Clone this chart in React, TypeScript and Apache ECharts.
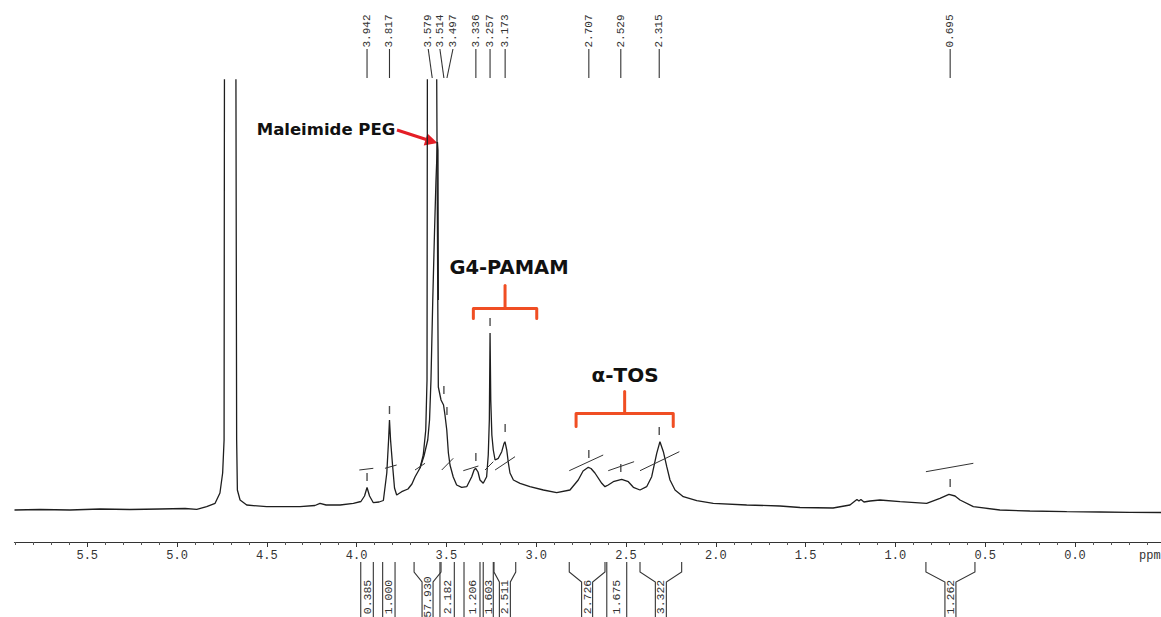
import React, { useEffect, useRef } from "react";
import * as echarts from "echarts";

// ---------- DATA ----------
const X_MIN = -0.479;
const X_MAX = 5.905;

const spectrumPpm = [
  5.905, 5.763, 5.596, 5.429, 5.262, 5.095, 4.955, 4.89, 4.835, 4.788, 4.761, 4.746, 4.738, 4.736, 4.705, 4.672,
  4.668, 4.664, 4.649, 4.612, 4.501, 4.315, 4.232, 4.204, 4.17, 4.092, 4.018, 3.976, 3.956, 3.942, 3.928, 3.907,
  3.875, 3.851, 3.832, 3.822, 3.817, 3.811, 3.8, 3.789, 3.777, 3.749, 3.714, 3.692, 3.675, 3.647, 3.629, 3.615,
  3.608, 3.606, 3.58, 3.554, 3.548, 3.545, 3.53, 3.516, 3.508, 3.498, 3.489, 3.48, 3.462, 3.443, 3.415, 3.387,
  3.359, 3.346, 3.337, 3.324, 3.313, 3.295, 3.276, 3.267, 3.261, 3.257, 3.253, 3.247, 3.239, 3.229, 3.211, 3.192,
  3.179, 3.174, 3.164, 3.155, 3.146, 3.127, 3.09, 3.035, 2.96, 2.886, 2.812, 2.766, 2.739, 2.71, 2.695, 2.673,
  2.635, 2.617, 2.599, 2.571, 2.524, 2.487, 2.459, 2.422, 2.385, 2.357, 2.329, 2.311, 2.292, 2.273, 2.255, 2.227,
  2.181, 2.106, 2.014, 1.828, 1.643, 1.531, 1.347, 1.253, 1.225, 1.214, 1.203, 1.192, 1.175, 1.141, 1.086, 0.974,
  0.826, 0.752, 0.702, 0.668, 0.64, 0.566, 0.418, 0.251, 0.046, -0.139, -0.306, -0.479,
];
const spectrumIntensity = [
  32, 32.5, 32, 33, 32.5, 33, 33.5, 32.7, 35.3, 38.7, 49, 69, 102, 462, 4000, 462,
  102, 52, 42, 37, 35.3, 35.3, 36.5, 38.7, 37, 37, 38.7, 40.5, 46, 54.5, 46, 39.3,
  40, 41.5, 69, 102, 122, 102, 77, 54, 47, 50.3, 53, 58, 65, 74, 87, 112,
  162, 462, 5000, 462, 239, 155, 142, 137, 127, 112, 89, 77, 65, 57, 54.7, 55.3,
  65.3, 72, 73.7, 70, 62, 58.7, 65.3, 87, 122, 209, 142, 107, 92, 82, 83.7, 90.3,
  98.7, 100.3, 92, 79, 69, 62, 58.7, 55.3, 52, 49.3, 52, 62, 71, 74.7, 73.5, 69,
  58.7, 55.3, 57, 60.3, 62.7, 60.3, 54.7, 52, 55.3, 65.3, 88.7, 100.3, 90.3, 75.3, 62, 52,
  45.3, 41.3, 38.7, 37, 36, 34.5, 34, 37, 41, 42.5, 41, 42.5, 40, 41, 42, 40.3,
  38.7, 43.7, 47.7, 46, 42, 35.3, 32, 31, 30.3, 30, 29.7, 29.5,
];

// second (overlaid) trace of the Maleimide PEG peak
const peg2Ppm = [3.647, 3.625, 3.604, 3.594, 3.586, 3.576, 3.566, 3.558, 3.55, 3.547, 3.545];
const peg2Intensity = [74, 86, 102, 122, 162, 242, 312, 362, 400, 392, 242];

// peak-pick labels (top)
const peakLabels = ["3.942", "3.817", "3.579", "3.514", "3.497", "3.336", "3.257", "3.173", "2.707", "2.529", "2.315", "0.695"];

// peak-pick marks above peaks
const markPpm = [3.942, 3.817, 3.514, 3.497, 3.336, 3.257, 3.173, 2.707, 2.529, 2.315, 0.695];
const markIntensity = [65, 132, 152, 131, 85, 220, 114, 88, 74, 111, 59];

// integrals (bottom brackets)
const integralFrom = [3.977, 3.855, 3.68, 3.536, 3.402, 3.295, 3.235, 2.816, 2.607, 2.422, 0.83];
const integralTo = [3.907, 3.786, 3.53, 3.456, 3.313, 3.239, 3.114, 2.617, 2.496, 2.19, 0.557];
const integralValues = ["0.385", "1.000", "57.930", "2.182", "1.206", "1.603", "2.511", "2.726", "1.675", "3.322", "1.262"];

// integral curves drawn over the spectrum
const curveStartPpm = [3.985, 3.842, 3.675, 3.526, 3.406, 3.285, 3.229, 2.816, 2.599, 2.422, 0.83];
const curveStartI = [72, 73.7, 72, 72, 71.3, 72, 72, 71.3, 71.3, 71.3, 70.3];
const curveEndPpm = [3.907, 3.777, 3.619, 3.462, 3.322, 3.239, 3.118, 2.627, 2.455, 2.203, 0.566];
const curveEndI = [73.7, 77, 78.7, 83.7, 76, 80.3, 85.3, 87, 80.3, 90.3, 78.7];

// axis ticks
const majorTicks = [0, 0.5, 1.0, 1.5, 2.0, 2.5, 3.0, 3.5, 4.0, 4.5, 5.0, 5.5];
const minorTicks: number[] = [];
for (let i = -4; i <= 59; i++) if (i % 5 !== 0) minorTicks.push(i / 10);

// annotations
const annotations = [
  { text: "Maleimide PEG", x: 326, y: 129, size: 16.5 },
  { text: "G4-PAMAM", x: 509, y: 267, size: 19.5 },
  { text: "α-TOS", x: 625, y: 375, size: 20 },
];
const bracketRanges = [
  { from: 3.35, to: 2.997, y: 308.5, drop: 10, stem: 23 },
  { from: 2.778, to: 2.237, y: 413.5, drop: 13, stem: 22 },
];

export default function App() {
  const ref = useRef<HTMLDivElement>(null);
  useEffect(() => {
    const chart = echarts.init(ref.current!, null, { renderer: "svg" });
    const ink = "#1e1e1e";
    const mono = "'Liberation Mono', 'DejaVu Sans Mono', monospace";
    const baseX: any = {
      type: "value",
      min: X_MIN,
      max: X_MAX,
      inverse: true,
      position: "bottom",
      gridIndex: 0,
      splitLine: { show: false },
    };
    const series: any[] = [
      {
        type: "line",
        data: spectrumPpm.map((p, i) => [p, spectrumIntensity[i]]),
        showSymbol: false,
        symbol: "none",
        clip: true,
        lineStyle: { color: ink, width: 1.3 },
        silent: true,
      },
      {
        type: "line",
        data: peg2Ppm.map((p, i) => [p, peg2Intensity[i]]),
        showSymbol: false,
        symbol: "none",
        clip: true,
        lineStyle: { color: ink, width: 1.3 },
        silent: true,
      },
      {
        type: "scatter",
        data: markPpm.map((p, i) => [p, markIntensity[i]]),
        symbol: "rect",
        symbolSize: [1.4, 8],
        itemStyle: { color: "#222" },
        silent: true,
      },
    ];
    curveStartPpm.forEach((s, i) => {
      series.push({
        type: "line",
        data: [
          [s, curveStartI[i]],
          [curveEndPpm[i], curveEndI[i]],
        ],
        showSymbol: false,
        symbol: "none",
        lineStyle: { color: "#333", width: 1 },
        silent: true,
      });
    });

    chart.setOption({
      animation: false,
      backgroundColor: "#ffffff",
      grid: { left: 14.5, right: 0, top: 80, bottom: 75 },
      xAxis: [
        {
          ...baseX,
          axisLine: { show: true, onZero: false, lineStyle: { color: "#333", width: 1.2 } },
          axisTick: { show: true, customValues: majorTicks, length: 5, lineStyle: { color: "#333" } },
          axisLabel: {
            show: true,
            customValues: majorTicks,
            formatter: (v: number) => v.toFixed(1),
            fontFamily: mono,
            fontSize: 12,
            color: "#333",
            margin: 8,
          },
        },
        {
          ...baseX,
          axisLine: { show: false },
          axisTick: { show: true, customValues: minorTicks, length: 3, lineStyle: { color: "#555" } },
          axisLabel: { show: false },
        },
      ],
      yAxis: { type: "value", min: 0, max: 462, show: false },
      series,
    });

    const px = (ppm: number) => chart.convertToPixel({ xAxisIndex: 0 }, ppm) as number;
    const g: any[] = [];

    // top peak labels
    const shift: Record<string, number> = { "3.579": -4, "3.514": -4, "3.497": 6 };
    peakLabels.forEach((lab) => {
      const x = px(parseFloat(lab));
      const lx = x + (shift[lab] || 0);
      g.push({
        type: "text",
        x: lx,
        y: 31,
        rotation: Math.PI / 2,
        style: {
          text: lab,
          font: `11px ${mono}`,
          fill: "#333",
          align: "center",
          verticalAlign: "middle",
          textAlign: "center",
          textVerticalAlign: "middle",
        },
        silent: true,
      });
      g.push({
        type: "line",
        shape: { x1: lx, y1: 49, x2: x, y2: 78 },
        style: { stroke: "#333", lineWidth: 1.1 },
        silent: true,
      });
    });

    // bottom integral brackets
    integralFrom.forEach((f, i) => {
      const xa = px(f);
      const xb = px(integralTo[i]);
      const c = (xa + xb) / 2;
      const st = { stroke: "#333", lineWidth: 1.1, fill: "none" };
      if (xb - xa < 20) {
        g.push({ type: "line", shape: { x1: xa, y1: 562, x2: xa, y2: 620 }, style: st, silent: true });
        g.push({ type: "line", shape: { x1: xb, y1: 562, x2: xb, y2: 620 }, style: st, silent: true });
      } else {
        g.push({
          type: "polyline",
          shape: { points: [[xa, 562], [xa, 572], [c - 5.5, 582], [c - 5.5, 620]] },
          style: st,
          silent: true,
        });
        g.push({
          type: "polyline",
          shape: { points: [[xb, 562], [xb, 572], [c + 5.5, 582], [c + 5.5, 620]] },
          style: st,
          silent: true,
        });
      }
      g.push({
        type: "text",
        x: c,
        y: 597,
        rotation: Math.PI / 2,
        style: {
          text: integralValues[i],
          font: `11.5px ${mono}`,
          fill: "#333",
          align: "center",
          verticalAlign: "middle",
          textAlign: "center",
          textVerticalAlign: "middle",
        },
        silent: true,
      });
    });

    // ppm unit
    g.push({
      type: "text",
      x: 1139,
      y: 556,
      style: {
        text: "ppm",
        font: `12px ${mono}`,
        fill: "#333",
        align: "left",
        verticalAlign: "middle",
        textAlign: "left",
        textVerticalAlign: "middle",
      },
      silent: true,
    });

    // annotations
    annotations.forEach((a) => {
      g.push({
        type: "text",
        x: a.x,
        y: a.y,
        style: {
          text: a.text,
          font: `bold ${a.size}px 'DejaVu Sans', 'Open Sans', sans-serif`,
          fill: "#111",
          align: "center",
          verticalAlign: "middle",
          textAlign: "center",
          textVerticalAlign: "middle",
        },
        silent: true,
      });
    });
    const orange = "#f04e23";
    bracketRanges.forEach((b) => {
      const xa = px(b.from);
      const xb = px(b.to);
      const c = (xa + xb) / 2;
      g.push({
        type: "polyline",
        shape: { points: [[xa, b.y + b.drop], [xa, b.y], [xb, b.y], [xb, b.y + b.drop]] },
        style: { stroke: orange, lineWidth: 3, fill: "none", lineJoin: "round", lineCap: "round" },
        silent: true,
      });
      g.push({
        type: "line",
        shape: { x1: c, y1: b.y, x2: c, y2: b.y - b.stem },
        style: { stroke: orange, lineWidth: 3, lineCap: "round" },
        silent: true,
      });
    });
    // red arrow to Maleimide PEG peak
    const red = "#e41e26";
    g.push({
      type: "line",
      shape: { x1: 397, y1: 130, x2: 427, y2: 139.7 },
      style: { stroke: red, lineWidth: 3 },
      silent: true,
    });
    g.push({
      type: "polygon",
      shape: { points: [[437.5, 143], [423.7, 145.5], [427.5, 133.5]] },
      style: { fill: red },
      silent: true,
    });

    chart.setOption({ graphic: g });
    return () => chart.dispose();
  }, []);
  return (
    <div
      ref={ref}
      style={{ position: "fixed", left: 0, top: 0, width: 1161, height: 617, background: "#fff" }}
    />
  );
}
